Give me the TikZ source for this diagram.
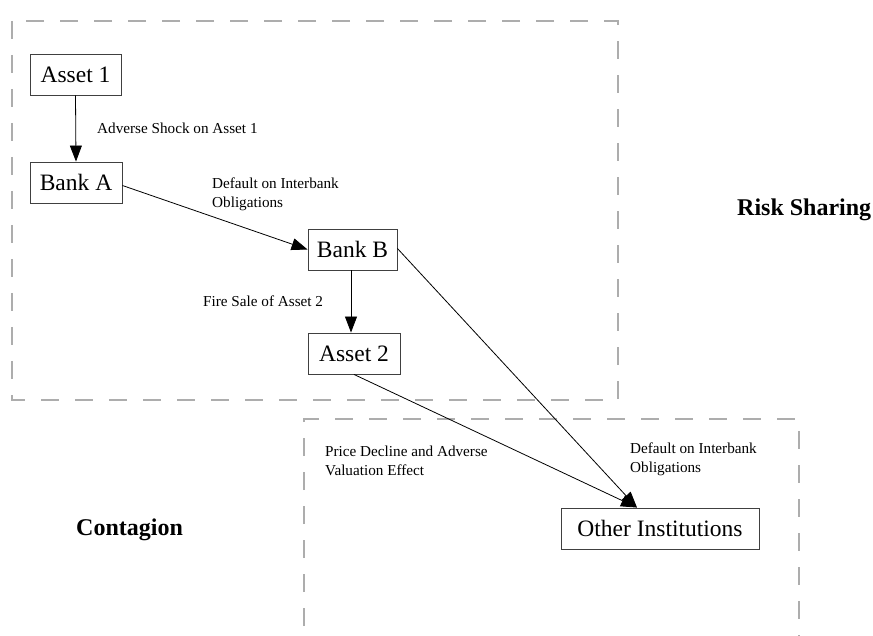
\documentclass[tikz,border=0pt]{standalone}
\usepackage{fontspec}
\setmainfont{Liberation Serif}
\usetikzlibrary{arrows.meta}
\begin{document}
\begin{tikzpicture}[x=1pt,y=-1pt,
  box/.style={draw=black!75, line width=0.9pt, minimum height=41pt, inner sep=0pt, font=\fontsize{23.5}{27}\selectfont},
  lbl/.style={anchor=west, inner sep=0pt, align=left, font=\fontsize{15.2}{19}\selectfont},
  zone/.style={draw=black!32, line width=1.2pt, dash pattern=on 18pt off 16pt},
  arr/.style={-{Triangle[length=16pt,width=12pt]}, line width=0.8pt},
  zonetitle/.style={anchor=west, inner sep=0pt, font=\bfseries\fontsize{24}{28}\selectfont}]
\useasboundingbox (0,0) rectangle (873,636);
% zones
\draw[zone] (12,21) rectangle (618,400);
\draw[zone] (304,660) -- (304,419) -- (799,419) -- (799,660);
% nodes
\node[box, minimum width=91pt] (a1) at (75.5,74.5) {Asset 1};
\node[box, minimum width=92pt] (ba) at (76,182.5) {Bank A};
\node[box, minimum width=89pt] (bb) at (352.5,249.5) {Bank B};
\node[box, minimum width=92pt] (a2) at (354,353.5) {Asset 2};
\node[box, minimum width=198pt] (oi) at (660,528.5) {Other Institutions};
\coordinate (oiin) at ([xshift=-23pt]oi.north);
% connectors
\draw[arr] (a1.south) -- (ba.north);
\draw[arr] ([yshift=-3pt]ba.east) -- (bb.west);
\draw[arr] ([xshift=-1.5pt]bb.south) -- ([xshift=-1.5pt]bb.south |- a2.north);
\draw[arr] ([yshift=1pt]bb.east) -- (oiin);
\draw[arr] (a2.south) -- (oiin);
% labels
\node[lbl] (l1) at (97,128) {Adverse Shock on Asset 1};
\node[lbl] (l2) at (212,194.5) {Default on Interbank\\Obligations};
\node[lbl] (l3) at (203,301) {Fire Sale of Asset 2};
\node[lbl] (l4) at (325,461) {Price Decline and Adverse\\Valuation Effect};
\node[lbl] (l5) at (630,459.5) {Default on Interbank\\Obligations};
\node[zonetitle] (rs) at (737,210) {Risk Sharing};
\node[zonetitle] (ct) at (76,530) {Contagion};
\end{tikzpicture}
\end{document}
